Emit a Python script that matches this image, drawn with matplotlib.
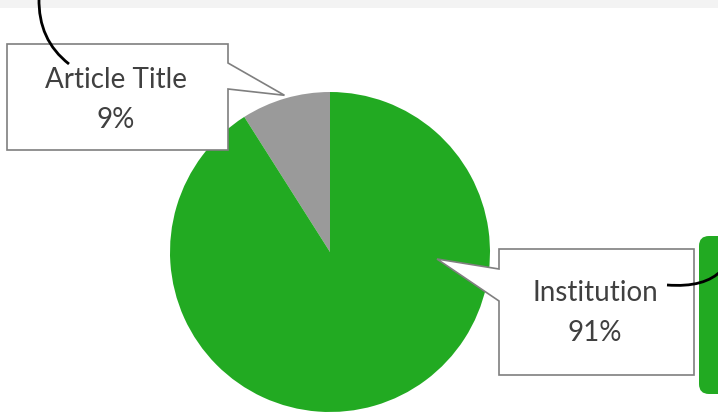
import numpy as np
import matplotlib.pyplot as plt
from matplotlib.patches import Polygon, FancyBboxPatch
from matplotlib.path import Path
from matplotlib.patches import PathPatch

# share of records by field
labels = ['Article Title', 'Institution']
shares = [9, 91]
colors = ['#9a9a9a', '#22aa22']

W, H = 718, 419
fig = plt.figure(figsize=(W / 100, H / 100), dpi=100)
ax = fig.add_axes([0, 0, 1, 1])
ax.set_xlim(0, W)
ax.set_ylim(0, H)
ax.set_aspect('equal')
ax.axis('off')

def Y(y):
    # layout below is measured from the top edge
    return H - y

# light strip along the top
ax.add_patch(plt.Rectangle((0, Y(8)), W, 8, color='#f3f3f3', lw=0, zorder=0))

cx, cy, R = 330, Y(252), 160
wedges, _ = ax.pie(shares, colors=colors, startangle=90, counterclock=True,
                   center=(cx, cy), radius=R, frame=True,
                   wedgeprops=dict(linewidth=0))
ax.set_xlim(0, W)
ax.set_ylim(0, H)
ax.axis('off')


def callout(box, side, base, tip, lines, text_xy):
    x0, y0, x1, y1 = box
    b0, b1 = base
    if side == 'right':
        pts = [(x0, y0), (x1, y0), (x1, b0), tip, (x1, b1), (x1, y1), (x0, y1)]
    else:
        pts = [(x0, y0), (x1, y0), (x1, y1), (x0, y1), (x0, b1), tip, (x0, b0)]
    pts = [(px, Y(py)) for px, py in pts]
    ax.add_patch(Polygon(pts, closed=True, facecolor='white', edgecolor='#7f7f7f',
                         lw=1.2, zorder=5))
    tx, ty = text_xy
    ax.text(tx, Y(ty), lines[0], ha='center', va='center', fontsize=20,
            color='#404040', family='Lato', zorder=6)
    ax.text(tx, Y(ty + 40), lines[1], ha='center', va='center', fontsize=20,
            color='#404040', family='Lato', zorder=6)


# tip of the small slice callout sits just past its rim, at the slice middle
w0 = wedges[0]
mid = np.deg2rad((w0.theta1 + w0.theta2) / 2)
tip_a = (cx + 1.02 * R * np.cos(mid), Y(cy + 1.02 * R * np.sin(mid)))
callout((7, 44, 228, 150), 'right', (63, 89), tip_a,
        [labels[0], f'{shares[0]}%'], (116, 80))
callout((499, 249, 694, 375), 'left', (269, 301), (437, 259),
        [labels[1], f'{shares[1]}%'], (595, 293))

# green tab on the right edge
ax.add_patch(FancyBboxPatch((699, Y(394)), 40, 158,
                            boxstyle='round,pad=0,rounding_size=10',
                            facecolor='#22aa22', edgecolor='none', zorder=4))

# connector curves
def curve(p0, c, p1):
    verts = [(p0[0], Y(p0[1])), (c[0], Y(c[1])), (p1[0], Y(p1[1]))]
    path = Path(verts, [Path.MOVETO, Path.CURVE3, Path.CURVE3])
    ax.add_patch(PathPatch(path, fill=False, edgecolor='black', lw=2, zorder=7))

curve((39, -2), (38, 40), (69, 64))
curve((667, 285), (705, 288), (722, 270))

fig.savefig('out.png', dpi=100)
